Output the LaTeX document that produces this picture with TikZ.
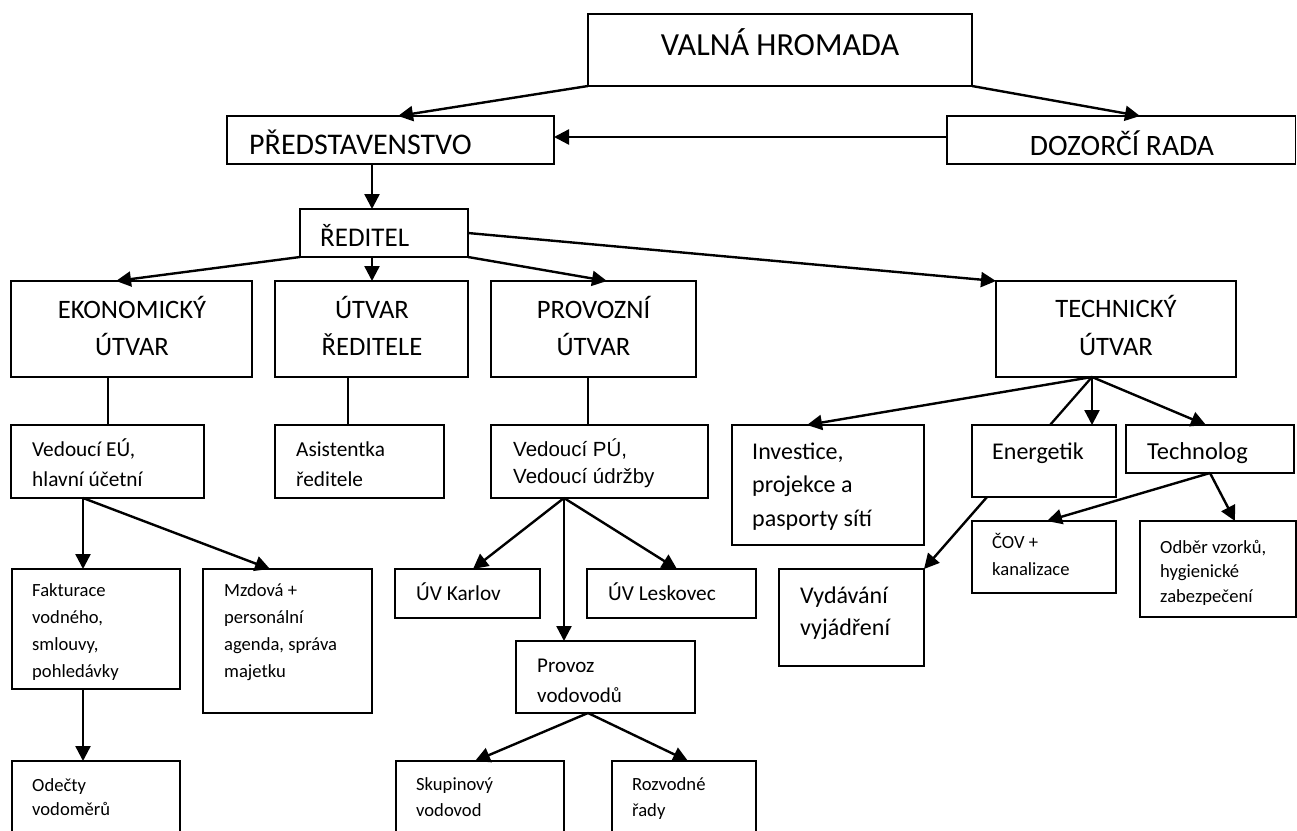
\documentclass[tikz,border=0pt]{standalone}
\usepackage{fontspec}
\setmainfont{Carlito}
\newfontfamily\arialf{Liberation Sans}
\usetikzlibrary{arrows.meta,calc}
\newcommand\mkbox[5]{\node[box, minimum width={(#4)-(#2)}, minimum height={(#5)-(#3)}] (#1) at ({((#2)+(#4))/2},{((#3)+(#5))/2}) {};}
\newcommand\fs[2]{\fontsize{#1}{#2}\selectfont}
\begin{document}
\begin{tikzpicture}[x=1pt,y=-1pt,
  box/.style={draw, line width=1.4pt, inner sep=0pt, outer sep=0pt},
  arr/.style={line width=2.4pt, -{Triangle[length=15pt,width=15pt]}},
  ln/.style={line width=1.8pt},
  lnb/.style={line width=2.3pt},
  lbl/.style={anchor=base west, inner sep=0pt, align=left},
  clbl/.style={anchor=base, inner sep=0pt, align=center}]
\useasboundingbox (0,0) rectangle (1297,830);
\fill[white] (0,0) rectangle (1297,830);
\clip (0,0) rectangle (1297,830);
% boxes
\mkbox{valna}{588}{14}{972}{86}
\mkbox{pred}{227}{116}{554}{164}
\mkbox{doz}{947}{116}{1295.5}{164}
\mkbox{red}{300}{209}{468}{257}
\mkbox{ekon}{11}{281}{252}{377}
\mkbox{utv}{275}{281}{468}{377}
\mkbox{prov}{491}{281}{696}{377}
\mkbox{tech}{996}{281}{1236}{377}
\mkbox{vedeu}{11}{425}{204}{498}
\mkbox{asist}{275}{425}{444}{498}
\mkbox{vedpu}{491}{425}{708}{498}
\mkbox{inv}{732}{425}{924}{545}
\mkbox{energ}{972}{425}{1116}{497}
\mkbox{techn}{1126}{425}{1294}{473}
\mkbox{vyd}{779}{569}{924}{666}
\mkbox{cov}{972}{521}{1116}{593}
\mkbox{odber}{1140}{521}{1296}{617}
\mkbox{fakt}{12}{569}{180}{689}
\mkbox{mzd}{203}{569}{372}{713}
\mkbox{karlov}{395}{569}{540}{618}
\mkbox{lesk}{587}{569}{756}{618}
\mkbox{provvod}{516}{641}{695}{713}
\mkbox{odect}{12}{761}{180}{850}
\mkbox{skup}{396}{761}{564}{850}
\mkbox{rozv}{612}{761}{756}{850}
% texts (multi-line nodes are placed at the baseline of their last line)
\node[clbl, font=\fs{32.2}{38}] (tvalna) at (780,55) {VALNÁ HROMADA};
\node[lbl, font=\fs{30}{36}] (tpred) at (249,154) {PŘEDSTAVENSTVO};
\node[clbl, font=\fs{29.6}{36}] (tdoz) at (1122,155) {DOZORČÍ RADA};
\node[lbl, font=\fs{27}{32}] (tred) at (320,246) {ŘEDITEL};
\node[clbl, font=\fs{26.6}{37}] (tekon) at (132,355) {EKONOMICKÝ\\ÚTVAR};
\node[clbl, font=\fs{26.6}{37}] (tutv) at (372,355) {ÚTVAR\\ŘEDITELE};
\node[clbl, font=\fs{26.6}{37}] (tprov) at (593.5,355) {PROVOZNÍ\\ÚTVAR};
\node[clbl, font=\fs{26.6}{38}] (ttech) at (1116,355) {TECHNICKÝ\\ÚTVAR};
\node[lbl, font=\fs{21.3}{30}] (tvedeu) at (32,486) {Vedoucí EÚ,\\hlavní účetní};
\node[lbl, font=\fs{21.3}{30}] (tasist) at (296,486) {Asistentka\\ředitele};
\node[lbl, font=\arialf\fs{20.5}{27}] (tvedpu) at (513,483) {Vedoucí PÚ,\\Vedoucí údržby};
\node[lbl, font=\fs{24}{33.5}] (tinv) at (752,526) {Investice,\\projekce a\\pasporty sítí};
\node[lbl, font=\fs{24}{33}] (tenerg) at (992,459) {Energetik};
\node[lbl, font=\fs{24.4}{33}] (ttechn) at (1147,459) {Technolog};
\node[lbl, font=\fs{24}{32}] (tvyd) at (800,635) {Vydávání\\vyjádření};
\node[lbl, font=\fs{18.6}{27}] (tcov) at (992,575) {ČOV +\\kanalizace};
\node[lbl, font=\fs{18.6}{24.5}] (todber) at (1160,602) {Odběr vzorků,\\hygienické\\zabezpečení};
\node[lbl, font=\fs{18.6}{26.7}] (tfakt) at (32,677) {Fakturace\\vodného,\\smlouvy,\\pohledávky};
\node[lbl, font=\fs{18.6}{26.7}] (tmzd) at (224,677) {Mzdová +\\personální\\agenda, správa\\majetku};
\node[lbl, font=\fs{18.6}{24}] (todect) at (32,815) {Odečty\\vodoměrů};
\node[lbl, font=\fs{21.3}{30}] (tkarlov) at (416,600) {ÚV Karlov};
\node[lbl, font=\fs{21.3}{30}] (tlesk) at (608,600) {ÚV Leskovec};
\node[lbl, font=\fs{21}{30}] (tprovvod) at (537,702) {Provoz\\vodovodů};
\node[lbl, font=\fs{18.6}{26.5}] (tskup) at (416,816.5) {Skupinový\\vodovod};
\node[lbl, font=\fs{18.6}{26.5}] (trozv) at (632,816.5) {Rozvodné\\řady};
% connectors
\draw[arr] (valna.south west) -- ($(pred.north west)+(171,0)$);
\draw[arr] (valna.south east) -- ($(doz.north west)+(193,0)$);
\draw[arr] ($(doz.north west)+(0,21)$) -- ($(pred.north east)+(0,21)$);
\draw[arr] ($(pred.south west)+(145,0)$) -- ($(red.north west)+(72,0)$);
\draw[arr] (red.south west) -- ($(ekon.north west)+(105,0)$);
\draw[arr] ($(red.south west)+(72,0)$) -- ($(utv.north west)+(97,0)$);
\draw[arr] (red.south east) -- ($(prov.north west)+(116,0)$);
\draw[arr] ($(red.north east)+(0,24)$) -- (tech.north west);
\draw[ln] ($(ekon.south west)+(97,0)$) -- ($(vedeu.north west)+(97,0)$);
\draw[ln] ($(utv.south west)+(73,0)$) -- ($(asist.north west)+(73,0)$);
\draw[ln] ($(prov.south west)+(97,0)$) -- ($(vedpu.north west)+(97,0)$);
\draw[arr] ($(vedeu.south west)+(72,0)$) -- ($(fakt.north west)+(71,0)$);
\draw[arr] ($(vedeu.south west)+(72,0)$) -- ($(mzd.north west)+(67,0)$);
\draw[arr] ($(fakt.south west)+(71,0)$) -- ($(odect.north west)+(71,0)$);
\draw[arr] ($(vedpu.south west)+(73,0)$) -- ($(karlov.north west)+(78,0)$);
\draw[arr] ($(vedpu.south west)+(73,0)$) -- ($(lesk.north west)+(90,0)$);
\draw[arr] ($(vedpu.south west)+(73,0)$) -- ($(provvod.north west)+(48,0)$);
\draw[arr] ($(provvod.south west)+(72,0)$) -- ($(skup.north west)+(79,0)$);
\draw[arr] ($(provvod.south west)+(72,0)$) -- ($(rozv.north west)+(76,0)$);
\draw[arr] ($(tech.south west)+(96,0)$) -- ($(inv.north west)+(75,0)$);
\draw[lnb] ($(tech.south west)+(96,0)$) -- ($(energ.north west)+(78,0)$);
\draw[arr] ($(tech.south west)+(96,0)$) -- ($(energ.north west)+(120,0)$);
\draw[arr] ($(tech.south west)+(96,0)$) -- ($(techn.north west)+(80,0)$);
\draw[arr] ($(energ.south west)+(15,0)$) -- (vyd.north east);
\draw[arr] ($(techn.south west)+(84,0)$) -- ($(cov.north west)+(75,0)$);
\draw[arr] ($(techn.south west)+(84,0)$) -- ($(odber.north west)+(95,0)$);
\end{tikzpicture}
\end{document}
